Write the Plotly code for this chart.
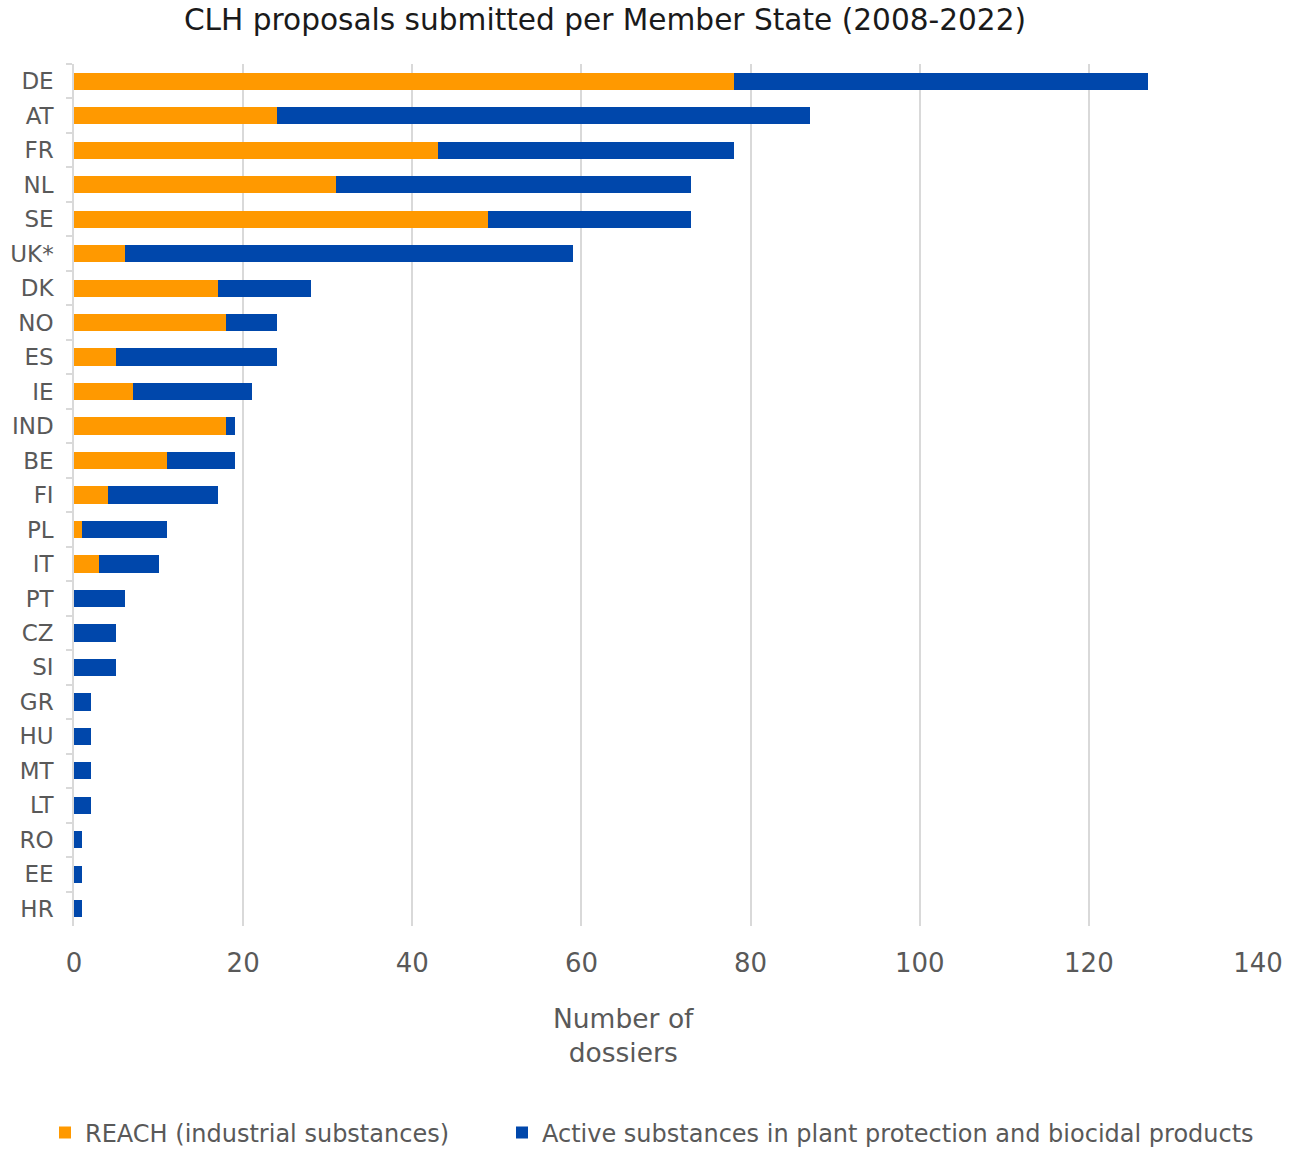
import plotly.graph_objects as go

# Member States, top to bottom
states = ["DE", "AT", "FR", "NL", "SE", "UK*", "DK", "NO", "ES", "IE", "IND", "BE",
          "FI", "PL", "IT", "PT", "CZ", "SI", "GR", "HU", "MT", "LT", "RO", "EE", "HR"]

# CLH dossiers on industrial substances (REACH)
reach = [78, 24, 43, 31, 49, 6, 17, 18, 5, 7, 18, 11,
         4, 1, 3, 0, 0, 0, 0, 0, 0, 0, 0, 0, 0]

# CLH dossiers on active substances (plant protection and biocidal products)
active = [49, 63, 35, 42, 24, 53, 11, 6, 19, 14, 1, 8,
          13, 10, 7, 6, 5, 5, 2, 2, 2, 2, 1, 1, 1]

x_ticks = [0, 20, 40, 60, 80, 100, 120, 140]

FONT = "Verdana, DejaVu Sans, sans-serif"
GREY = "#595959"
ORANGE = "#FF9900"
BLUE = "#0047AB"
W, H = 1301, 1149

fig = go.Figure()
fig.add_trace(go.Bar(
    y=states, x=reach, orientation="h", name="REACH (industrial substances)",
    marker=dict(color=ORANGE, line=dict(width=0)), legend="legend", showlegend=True,
))
fig.add_trace(go.Bar(
    y=states, x=active, orientation="h",
    name="Active substances in plant protection and biocidal products",
    marker=dict(color=BLUE, line=dict(width=0)), legend="legend2", showlegend=True,
))

legend_style = dict(
    orientation="h", xref="container", yref="container",
    xanchor="left", yanchor="middle", y=1 - 1133 / H,
    font=dict(family=FONT, size=24, color=GREY), bgcolor="rgba(0,0,0,0)",
    visible=True,
)

fig.update_layout(
    barmode="stack",
    bargap=0.5,
    showlegend=True,
    width=W, height=H,
    margin=dict(l=74, r=43, t=64, b=223, autoexpand=False),
    paper_bgcolor="white", plot_bgcolor="white",
    font=dict(family=FONT, color=GREY),
    title=dict(
        text="CLH proposals submitted per Member State (2008-2022)",
        x=605 / W, xanchor="center", xref="container",
        y=1 - 20 / H, yanchor="middle", yref="container",
        font=dict(family=FONT, size=29.6, color="#1a1a1a"),
    ),
    xaxis=dict(
        range=[0, 140], tickvals=x_ticks, showgrid=True,
        gridcolor="#D9D9D9", gridwidth=1.5, zeroline=False,
        showline=False, ticks="", tickfont=dict(size=26, color=GREY),
        ticklabelstandoff=19,
    ),
    yaxis=dict(
        categoryorder="array", categoryarray=states, autorange="reversed",
        showline=True, linecolor="#D9D9D9", linewidth=1.5,
        ticks="outside", tickson="boundaries", ticklen=6, tickcolor="#D9D9D9",
        tickwidth=1.5, tickfont=dict(size=23, color=GREY), showgrid=False,
        ticklabelstandoff=14,
    ),
    legend=dict(legend_style, x=45 / W),
    legend2=dict(legend_style, x=502 / W),
    annotations=[dict(
        text="Number of<br>dossiers", xref="paper", yref="paper",
        x=(623 - 74) / 1184, y=-(1035.5 - 926) / 862,
        xanchor="center", yanchor="middle", showarrow=False,
        font=dict(family=FONT, size=26.5, color=GREY),
    )],
)

fig.write_html("out.html")
